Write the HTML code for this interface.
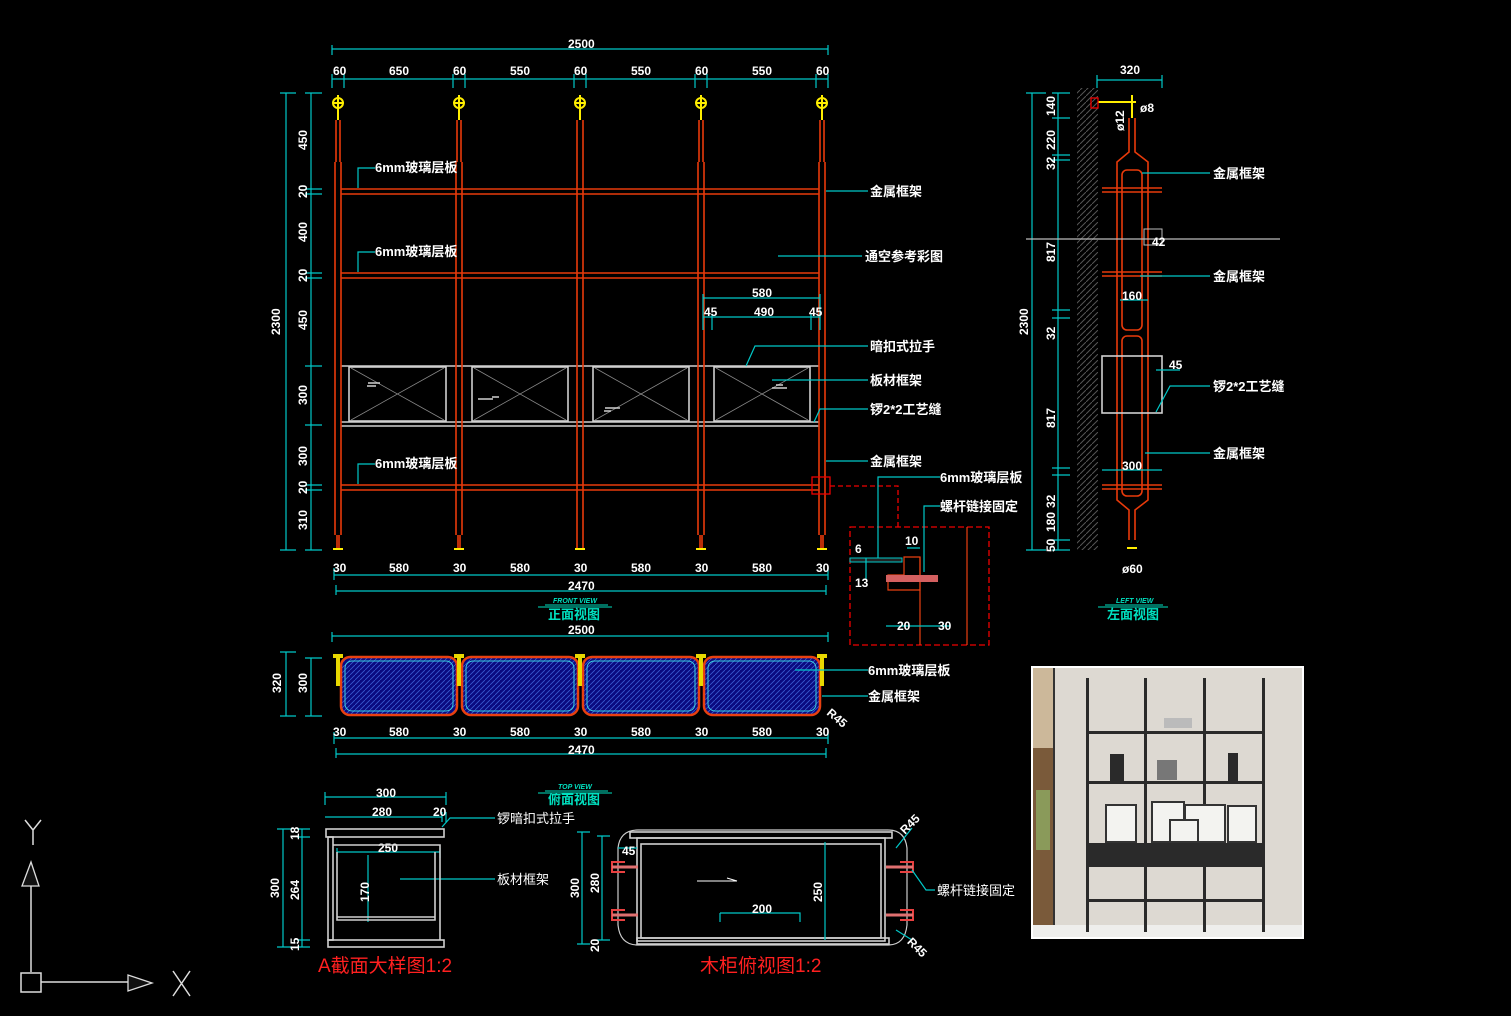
<!DOCTYPE html>
<html><head><meta charset="utf-8"><style>
html,body{margin:0;padding:0;background:#000;}
svg{display:block}
text{font-family:"Liberation Sans Narrow","Liberation Sans","Noto Sans CJK SC",sans-serif;fill:#fff;font-size:12px;font-weight:bold}
.d{stroke:#00c8c8;stroke-width:1.2;fill:none}
.r{stroke:#e83a0a;stroke-width:1.6;fill:none}
.y{stroke:#ffee00;stroke-width:2;fill:none}
.w{stroke:#d0d0d0;stroke-width:1.6;fill:none}
.g{stroke:#888;stroke-width:0.8;fill:none}
.c{font-size:13px}
.t{fill:#00e0c0;font-size:13px}
.rt{fill:#ff2020;font-size:19px;font-weight:normal;font-family:"Liberation Sans","Noto Sans CJK SC",sans-serif}
</style></head><body>
<svg width="1511" height="1016" viewBox="0 0 1511 1016" xmlns="http://www.w3.org/2000/svg">
<rect width="1511" height="1016" fill="#000"/>

<!-- ===== FRONT VIEW ===== -->
<!-- top dims -->
<path class="d" d="M332 49H828M332 45V55M828 45V55M332 79H828M332 74V88M344 74V88M453 74V88M465 74V88M574 74V88M586 74V88M695 74V88M707 74V88M816 74V88M828 74V88"/>
<text x="568" y="48">2500</text>
<text x="333" y="75">60</text><text x="389" y="75">650</text><text x="453" y="75">60</text><text x="510" y="75">550</text><text x="574" y="75">60</text><text x="631" y="75">550</text><text x="695" y="75">60</text><text x="752" y="75">550</text><text x="816" y="75">60</text>
<!-- left dims -->
<path class="d" d="M286 93V550M280 93H296M280 550H296M311 93V550M305 93H322M305 189H322M305 194H322M305 273H322M305 278H322M305 366H322M305 425H322M305 485H322M305 490H322M305 550H322"/>
<g transform="translate(280,335) rotate(-90)"><text x="0" y="0">2300</text></g>
<g transform="translate(307,150) rotate(-90)"><text>450</text></g>
<g transform="translate(307,198) rotate(-90)"><text>20</text></g>
<g transform="translate(307,242) rotate(-90)"><text>400</text></g>
<g transform="translate(307,282) rotate(-90)"><text>20</text></g>
<g transform="translate(307,330) rotate(-90)"><text>450</text></g>
<g transform="translate(307,405) rotate(-90)"><text>300</text></g>
<g transform="translate(307,466) rotate(-90)"><text>300</text></g>
<g transform="translate(307,494) rotate(-90)"><text>20</text></g>
<g transform="translate(307,530) rotate(-90)"><text>310</text></g>

<!-- shelves -->
<path class="r" d="M341 189H819M341 194H819M341 273H819M341 278H819M341 485H819M341 490H819"/>
<!-- drawer band -->
<path class="w" d="M341 366H819M341 422H819M341 426H819"/>
<rect class="w" x="349" y="367" width="97" height="54"/>
<rect class="w" x="472" y="367" width="96" height="54"/>
<rect class="w" x="593" y="367" width="96" height="54"/>
<rect class="w" x="714" y="367" width="96" height="54"/>
<path class="g" d="M351 368L444 420M444 368L351 420M474 368L566 420M566 368L474 420M595 368L687 420M687 368L595 420M716 368L808 420M808 368L716 420"/>
<path class="w" stroke-width="1" d="M368 383H380M367 386H376M478 399H493M499 397H492M605 408H620M611 411H604M772 388H787M783 385H776"/>
<!-- posts -->
<g>
<path class="r" d="M335 162V535M341 162V535M336 120V162M340 120V162M337 535V548M339 535V548"/>
<path class="r" d="M456 162V535M462 162V535M457 120V162M461 120V162M458 535V548M460 535V548"/>
<path class="r" d="M577 120V548M583 120V548"/>
<path class="r" d="M698 162V535M704 162V535M699 120V162M703 120V162M700 535V548M702 535V548"/>
<path class="r" d="M819 162V535M825 162V535M820 120V162M824 120V162M821 535V548M823 535V548"/>
</g>
<g class="y">
<circle cx="338" cy="103" r="5"/><path d="M338 95V120M333 103H343M333 549H343"/>
<circle cx="459" cy="103" r="5"/><path d="M459 95V120M454 103H464M454 549H464"/>
<circle cx="580" cy="103" r="5"/><path d="M580 95V120M575 103H585M575 549H585"/>
<circle cx="701" cy="103" r="5"/><path d="M701 95V120M696 103H706M696 549H706"/>
<circle cx="822" cy="103" r="5"/><path d="M822 95V120M817 103H827M817 549H827"/>
</g>
<!-- red detail marker -->
<rect x="812" y="477" width="18" height="17" fill="none" stroke="#e00" stroke-width="1.3"/>
<path d="M830 486H898V527" stroke="#e00" stroke-width="1.3" stroke-dasharray="5,3" fill="none"/>
<!-- leaders left -->
<path class="d" d="M358 188V168H375M358 272V252H375M358 484V464H375"/>
<text x="375" y="172" class="c">6mm玻璃层板</text>
<text x="375" y="256" class="c">6mm玻璃层板</text>
<text x="375" y="468" class="c">6mm玻璃层板</text>
<!-- leaders right -->
<path class="d" d="M826 191H868M778 256H862M746 366L755 346H868M772 380H868M814 422L820 409H868M826 461H868"/>
<text x="870" y="196" class="c">金属框架</text>
<text x="865" y="261" class="c">通空参考彩图</text>
<text x="870" y="351" class="c">暗扣式拉手</text>
<text x="870" y="385" class="c">板材框架</text>
<text x="870" y="414" class="c">锣2*2工艺缝</text>
<text x="870" y="466" class="c">金属框架</text>
<!-- 580 dims -->
<path class="d" d="M703 298H820M703 294V330M820 294V330M703 317H820M712 314V330M811 314V330"/>
<text x="752" y="297">580</text><text x="704" y="316">45</text><text x="754" y="316">490</text><text x="809" y="316">45</text>
<!-- bottom dims -->
<path class="d" d="M334 575H828M334 568V580M828 568V580M336 591H826M336 585V595M826 585V595"/>
<text x="333" y="572">30</text><text x="389" y="572">580</text><text x="453" y="572">30</text><text x="510" y="572">580</text><text x="574" y="572">30</text><text x="631" y="572">580</text><text x="695" y="572">30</text><text x="752" y="572">580</text><text x="816" y="572">30</text>
<text x="568" y="590">2470</text>
<text x="553" y="603" class="t" style="font-size:7px;font-style:italic">FRONT VIEW</text>
<path d="M545 605H608M538 607H612" stroke="#00e0c0" stroke-width="1"/>
<text x="548" y="619" class="t">正面视图</text>

<!-- detail box -->
<rect x="850" y="527" width="139" height="118" fill="none" stroke="#e00" stroke-width="1.3" stroke-dasharray="6,3"/>
<path d="M920 557V645M967 527V645" stroke="#e84010" stroke-width="1.2"/>
<path d="M850 558H902V562H850Z" fill="#222" stroke="#00c8c8" stroke-width="1"/>
<path d="M904 557H920V590H888V575H904Z" fill="none" stroke="#e84010" stroke-width="1.2"/>
<rect x="886" y="575" width="52" height="7" fill="#d46060"/>
<path class="d" d="M878 558V477H940M924 572V506H940M866 558V580M886 626H950M907 548H920"/>
<text x="855" y="553">6</text><text x="855" y="587">13</text><text x="905" y="545">10</text><text x="897" y="630">20</text><text x="938" y="630">30</text>
<text x="940" y="482" class="c">6mm玻璃层板</text>
<text x="940" y="511" class="c">螺杆链接固定</text>

<!-- ===== SIDE VIEW ===== -->
<rect x="1077" y="88" width="21" height="462" fill="url(#hatch)"/>
<defs><pattern id="hatch" width="6" height="6" patternUnits="userSpaceOnUse"><path d="M0 6L6 0" stroke="#555" stroke-width="1"/></pattern></defs>
<path class="d" d="M1097 80H1162M1097 75V88M1162 75V88M1032 93V550M1026 93H1046M1026 550H1046M1058 93V550M1052 93H1070M1052 118H1070M1052 155H1070M1052 160H1070M1052 310H1070M1052 318H1070M1052 468H1070M1052 475H1070M1052 540H1070M1052 550H1070"/>
<text x="1120" y="74">320</text>
<g transform="translate(1028,335) rotate(-90)"><text>2300</text></g>
<g transform="translate(1055,116) rotate(-90)"><text>140</text></g>
<g transform="translate(1055,150) rotate(-90)"><text>220</text></g>
<g transform="translate(1055,170) rotate(-90)"><text>32</text></g>
<g transform="translate(1055,262) rotate(-90)"><text>817</text></g>
<g transform="translate(1055,340) rotate(-90)"><text>32</text></g>
<g transform="translate(1055,428) rotate(-90)"><text>817</text></g>
<g transform="translate(1055,508) rotate(-90)"><text>32</text></g>
<g transform="translate(1055,532) rotate(-90)"><text>180</text></g>
<g transform="translate(1055,552) rotate(-90)"><text>50</text></g>
<path class="y" d="M1098 102H1132M1132 95V118M1128 102H1136"/>
<rect x="1091" y="98" width="7" height="10" fill="none" stroke="#e00" stroke-width="1.3"/>
<path class="r" d="M1129 118V152L1117 162V500L1129 510V540M1135 118V152L1148 162V500L1135 510V540"/>
<rect class="r" x="1122" y="170" width="20" height="160" rx="5"/>
<rect class="r" x="1122" y="336" width="20" height="160" rx="5"/>
<path class="r" d="M1102 188H1162M1102 192H1162M1102 272H1162M1102 276H1162M1102 485H1162M1102 489H1162"/>
<rect class="w" x="1102" y="356" width="60" height="57" stroke-width="1.2"/>
<path class="y" d="M1127 548H1137"/>
<path d="M1026 239H1280" stroke="#bbb" stroke-width="1.2"/>
<rect x="1144" y="229" width="18" height="16" fill="none" stroke="#bbb" stroke-width="1"/>
<path class="d" d="M1142 173H1210M1140 276H1210M1156 412L1170 386H1210M1145 453H1210M1120 300H1148M1102 470H1162M1156 370H1180"/>
<text x="1108" y="135" transform="rotate(-90 1114 125)">ø12</text>
<text x="1140" y="112">ø8</text><text x="1152" y="246">42</text><text x="1122" y="300">160</text><text x="1169" y="369">45</text><text x="1122" y="470">300</text><text x="1122" y="573">ø60</text>
<text x="1213" y="178" class="c">金属框架</text>
<text x="1213" y="281" class="c">金属框架</text>
<text x="1213" y="391" class="c">锣2*2工艺缝</text>
<text x="1213" y="458" class="c">金属框架</text>
<text x="1116" y="603" class="t" style="font-size:7px;font-style:italic">LEFT VIEW</text>
<path d="M1105 605H1163M1098 607H1168" stroke="#00e0c0" stroke-width="1"/>
<text x="1107" y="619" class="t">左面视图</text>

<!-- ===== TOP VIEW ===== -->
<path class="d" d="M332 636H828M332 632V642M828 632V642M286 652V716M280 652H296M280 716H296M311 658V716M305 658H322M305 716H322"/>
<text x="568" y="634">2500</text>
<g transform="translate(281,693) rotate(-90)"><text>320</text></g>
<g transform="translate(307,693) rotate(-90)"><text>300</text></g>
<defs><pattern id="bh" width="5" height="5" patternUnits="userSpaceOnUse"><rect width="5" height="5" fill="#0a0a80"/><path d="M0 5L5 0" stroke="#3a5ad0" stroke-width="0.8"/></pattern></defs>
<g stroke="#e84010" stroke-width="2.5" fill="url(#bh)">
<rect x="341" y="657" width="116" height="58" rx="9"/>
<rect x="462" y="657" width="116" height="58" rx="9"/>
<rect x="583" y="657" width="116" height="58" rx="9"/>
<rect x="704" y="657" width="116" height="58" rx="9"/>
</g>
<g fill="none" stroke="#3ad0e0" stroke-width="1">
<rect x="345" y="661" width="108" height="50" rx="7"/><rect x="466" y="661" width="108" height="50" rx="7"/><rect x="587" y="661" width="108" height="50" rx="7"/><rect x="708" y="661" width="108" height="50" rx="7"/>
</g>
<g fill="#e8d800">
<rect x="333" y="654" width="10" height="4"/><rect x="336" y="658" width="4" height="28"/>
<rect x="454" y="654" width="10" height="4"/><rect x="457" y="658" width="4" height="28"/>
<rect x="575" y="654" width="10" height="4"/><rect x="578" y="658" width="4" height="28"/>
<rect x="696" y="654" width="10" height="4"/><rect x="699" y="658" width="4" height="28"/>
<rect x="817" y="654" width="10" height="4"/><rect x="820" y="658" width="4" height="28"/>
</g>
<path class="d" d="M795 670H868M822 696H868M334 738H828M334 732V744M828 732V744M336 754H826M336 748V758M826 748V758"/>
<text x="868" y="675" class="c">6mm玻璃层板</text>
<text x="868" y="701" class="c">金属框架</text>
<text x="826" y="714" transform="rotate(40 826 714)">R45</text>
<text x="333" y="736">30</text><text x="389" y="736">580</text><text x="453" y="736">30</text><text x="510" y="736">580</text><text x="574" y="736">30</text><text x="631" y="736">580</text><text x="695" y="736">30</text><text x="752" y="736">580</text><text x="816" y="736">30</text>
<text x="568" y="754">2470</text>
<text x="558" y="789" class="t" style="font-size:7px;font-style:italic">TOP VIEW</text>
<path d="M545 791H608M538 793H612" stroke="#00e0c0" stroke-width="1"/>
<text x="548" y="804" class="t">俯面视图</text>

<!-- ===== SECTION A ===== -->
<path class="d" d="M325 797H446M325 792V805M446 792V805M325 817H442M442 812V822M446 812V822M283 829V947M277 829H292M277 947H292M302 829V947M297 829H310M297 837H310M297 940H310M297 947H310M337 852H440M337 848V858M440 848V858M368 855V922M400 879H495M442 827L450 818H495"/>
<text x="376" y="797">300</text><text x="372" y="816">280</text><text x="433" y="816">20</text><text x="378" y="852">250</text>
<g transform="translate(279,898) rotate(-90)"><text>300</text></g>
<g transform="translate(299,900) rotate(-90)"><text>264</text></g>
<g transform="translate(299,840) rotate(-90)"><text>18</text></g>
<g transform="translate(299,951) rotate(-90)"><text>15</text></g>
<g transform="translate(369,902) rotate(-90)"><text>170</text></g>
<g class="w" stroke-width="1.3">
<rect x="326" y="829" width="118" height="8"/>
<rect x="328" y="837" width="5" height="103"/>
<rect x="328" y="940" width="116" height="7"/>
<path d="M333 845H440V940M337 852V920H435V852M337 917H435"/>
</g>
<text x="497" y="823" class="c" style="font-weight:normal">锣暗扣式拉手</text>
<text x="497" y="884" class="c" style="font-weight:normal">板材框架</text>
<text x="318" y="972" class="rt">A截面大样图1:2</text>

<!-- ===== CABINET TOP ===== -->
<path d="M638 830H888Q905 830 907 848V925Q905 945 888 945H638Q620 945 618 925V848Q620 830 638 830Z" fill="none" stroke="#ccc" stroke-width="1.2"/>
<g class="w" stroke-width="1.2">
<rect x="630" y="832" width="262" height="6"/>
<rect x="637" y="838" width="248" height="103"/>
<rect x="641" y="844" width="240" height="94"/>
<rect x="637" y="938" width="252" height="6"/>
</g>
<g stroke="#e84040" stroke-width="2" fill="none">
<path d="M625 862H612V872H625M625 910H612V920H625M900 862H913V872H900M900 910H913V920H900"/>
<path d="M612 867H638M612 915H638M886 867H913M886 915H913" stroke="#e07070" stroke-width="3"/>
</g>
<path class="d" d="M582 832V944M577 832H590M577 944H590M602 836V940M597 836H610M597 940H610M825 842V940M720 913V922M720 913H800V922M618 848H637M896 848L912 828M896 930L912 940M912 870L926 890H935"/>
<path d="M697 881H737M727 878L737 881" stroke="#fff" stroke-width="1"/>
<g transform="translate(579,898) rotate(-90)"><text>300</text></g>
<g transform="translate(599,893) rotate(-90)"><text>280</text></g>
<g transform="translate(599,952) rotate(-90)"><text>20</text></g>
<g transform="translate(822,902) rotate(-90)"><text>250</text></g>
<text x="622" y="855">45</text><text x="752" y="913">200</text>
<text x="898" y="832" transform="rotate(-45 905 825)">R45</text>
<text x="905" y="946" transform="rotate(45 910 946)">R45</text>
<text x="937" y="895" class="c" style="font-weight:normal">螺杆链接固定</text>
<text x="700" y="972" class="rt">木柜俯视图1:2</text>

<!-- ===== PHOTO ===== -->
<rect x="1031" y="666" width="273" height="273" fill="#fff"/>
<rect x="1033" y="668" width="269" height="269" fill="#ddd9d2"/>
<rect x="1033" y="668" width="20" height="269" fill="#7a5a3a"/>
<rect x="1033" y="668" width="20" height="80" fill="#ccb89a"/>
<rect x="1036" y="790" width="14" height="60" fill="#8a9a5a"/>
<rect x="1053" y="668" width="2" height="265" fill="#333"/>
<rect x="1033" y="925" width="269" height="12" fill="#eeeeec"/>
<g fill="#2a2a2a">
<rect x="1086" y="678" width="3" height="254"/><rect x="1144" y="678" width="3" height="254"/><rect x="1203" y="678" width="3" height="254"/><rect x="1262" y="678" width="3" height="254"/>
<rect x="1088" y="731" width="176" height="3"/><rect x="1088" y="781" width="176" height="3"/><rect x="1088" y="899" width="176" height="3"/>
<rect x="1088" y="843" width="176" height="24"/>
<rect x="1110" y="754" width="14" height="27"/><rect x="1228" y="753" width="10" height="28"/>
<rect x="1157" y="760" width="20" height="20" fill="#777"/>
</g>
<g fill="#f3f3f0" stroke="#333" stroke-width="2">
<rect x="1106" y="805" width="30" height="37"/><rect x="1152" y="802" width="32" height="40"/><rect x="1185" y="805" width="40" height="37"/><rect x="1228" y="806" width="28" height="36"/><rect x="1170" y="820" width="28" height="22"/>
</g>
<rect x="1164" y="718" width="28" height="10" fill="#bbb"/>

<!-- ===== UCS ===== -->
<path d="M31 972V880M41 982H128" stroke="#ddd" stroke-width="1.5"/>
<rect x="21" y="973" width="20" height="19" fill="none" stroke="#ddd" stroke-width="1.5"/>
<path d="M31 862L22 886H39Z M152 983L128 975V991Z" fill="#111" stroke="#ddd" stroke-width="1.3"/>
<path d="M25 820L33 830L41 820M33 830V845M173 971L190 996M190 971L173 996" stroke="#ddd" stroke-width="1.5" fill="none"/>
</svg>
</body></html>
